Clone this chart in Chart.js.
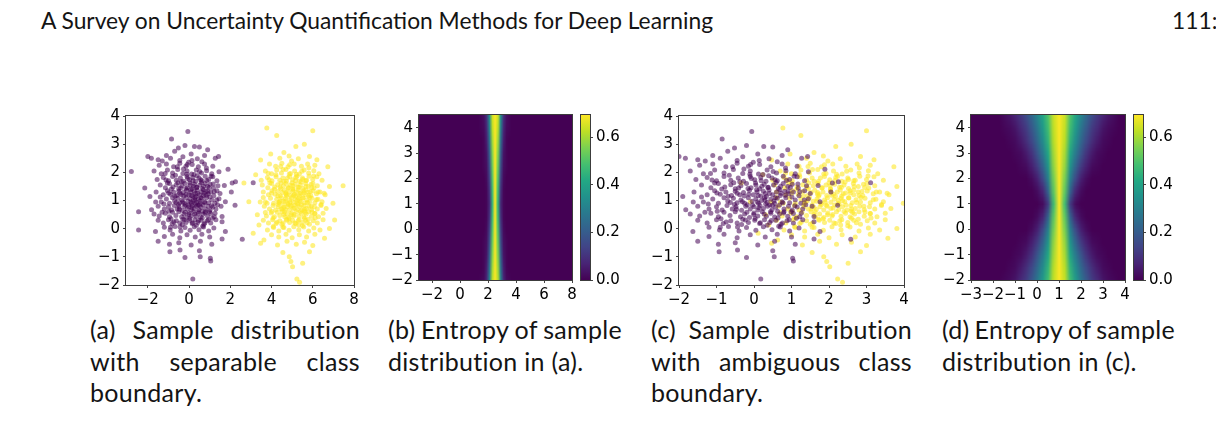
<!DOCTYPE html>
<html>
<head>
<meta charset="utf-8">
<script src="https://cdn.jsdelivr.net/npm/chart.js@4.4.1/dist/chart.umd.min.js"></script>
<style>
  html, body { margin: 0; padding: 0; background: #fff; }
  body { position: relative; width: 1216px; height: 446px; overflow: hidden; font-family: Lato, "Open Sans", sans-serif; color: #141414; }
  .head { position: absolute; top: 6px; font-size: 22.8px; white-space: nowrap; }
  .cap { position: absolute; top: 314px; font-size: 25px; letter-spacing: 0.3px; line-height: 31.5px; }
  .cap .j { display: flex; justify-content: space-between; white-space: nowrap; }
  .cap .l { white-space: nowrap; }
</style>
</head>
<body>
<div class="head" style="left:41px">A Survey on Uncertainty Quantification Methods for Deep Learning</div>
<div class="head" style="left:1172px">111:5</div>

<div class="cap" style="left:90px;width:270px">
  <div class="j"><span>(a)</span><span>Sample</span><span>distribution</span></div>
  <div class="j"><span>with</span><span>separable</span><span>class</span></div>
  <div class="l">boundary.</div>
</div>
<div class="cap" style="left:388px;width:234px">
  <div class="j"><span>(b)</span><span>Entropy</span><span>of</span><span>sample</span></div>
  <div class="l">distribution in (a).</div>
</div>
<div class="cap" style="left:651px;width:261px">
  <div class="j"><span>(c)</span><span>Sample</span><span>distribution</span></div>
  <div class="j"><span>with</span><span>ambiguous</span><span>class</span></div>
  <div class="l">boundary.</div>
</div>
<div class="cap" style="left:942px;width:233px">
  <div class="j"><span>(d)</span><span>Entropy</span><span>of</span><span>sample</span></div>
  <div class="l">distribution in (c).</div>
</div>

<script>
// ---- data ----

// class 0 (purple) samples, same draw in (a) and (c)
const classA = [
  [-0.06,3.45],[-0.85,3.18],[-0.2,2.95],[0.26,2.92],[-0.52,2.86],[0.5,2.9],[0.9,2.8],[-0.7,2.75],
  [-2.0,2.56],[-1.83,2.5],[-1.5,2.45],[-1.1,2.6],[-0.9,2.5],[-0.3,2.55],[0.1,2.65],[0.4,2.48],[0.75,2.6],[1.27,2.5],[1.43,2.56],[-1.3,2.4],[-0.45,2.42],[0.62,2.38],
  [-1.45,2.25],[-1.1,2.3],[-0.75,2.2],[-0.45,2.32],[-0.15,2.22],[0.15,2.28],[0.45,2.2],[0.75,2.3],[1.15,2.22],[-0.02,2.36],
  [-1.7,2.05],[-1.35,1.95],[-1.05,2.08],[-0.8,1.98],[-0.55,2.1],[-0.3,1.96],[-0.1,2.05],[0.12,1.94],[0.35,2.08],[0.6,1.98],[0.85,2.06],[1.1,1.95],[1.89,2.11],[1.45,2.02],
  [-1.55,1.75],[-1.25,1.82],[-1.0,1.7],[-0.8,1.85],[-0.62,1.72],[-0.42,1.8],[-0.28,1.68],[-0.1,1.85],[0.02,1.74],[0.18,1.82],[0.32,1.68],[0.48,1.8],[0.62,1.7],[0.78,1.86],[0.95,1.75],[1.15,1.84],[1.35,1.7],[2.09,1.62],[2.25,1.67],[3.11,1.63],
  [-2.15,1.44],[-1.4,1.55],[-1.15,1.45],[-0.95,1.6],[-0.78,1.48],[-0.62,1.56],[-0.5,1.42],[-0.35,1.52],[-0.2,1.6],[-0.08,1.45],[0.05,1.55],[0.15,1.42],[0.27,1.58],[0.38,1.47],[0.52,1.55],[0.65,1.43],[0.78,1.6],[0.9,1.5],[1.02,1.58],[1.18,1.44],[1.4,1.52],[1.71,1.53],
  [-1.6,1.3],[-1.25,1.2],[-1.05,1.35],[-0.9,1.22],[-0.75,1.3],[-0.6,1.18],[-0.5,1.33],[-0.38,1.2],[-0.28,1.28],[-0.12,1.36],[-0.02,1.2],[0.08,1.3],[0.18,1.16],[0.3,1.25],[0.4,1.37],[0.5,1.2],[0.6,1.3],[0.7,1.18],[0.82,1.33],[0.93,1.24],[1.05,1.3],[1.2,1.17],[1.35,1.35],[2.05,1.3],[0.25,1.33],[-0.45,1.26],
  [-1.9,1.14],[-1.35,0.95],[-1.1,1.05],[-0.95,0.9],[-0.8,1.1],[-0.7,0.98],[-0.55,1.08],[-0.45,0.92],[-0.35,1.02],[-0.25,0.9],[-0.15,1.1],[-0.05,0.97],[0.05,1.06],[0.12,0.9],[0.2,1.0],[0.28,1.1],[0.35,0.94],[0.45,1.04],[0.55,0.9],[0.62,1.08],[0.75,0.96],[0.85,1.1],[0.95,0.92],[1.1,1.02],[1.25,0.9],[1.45,1.06],[1.76,0.96],
  [-1.82,0.67],[-1.5,0.8],[-1.2,0.7],[-1.0,0.78],[-0.85,0.66],[-0.72,0.82],[-0.58,0.7],[-0.48,0.78],[-0.33,0.65],[-0.22,0.8],[-0.1,0.7],[0.0,0.78],[0.1,0.66],[0.16,0.82],[0.25,0.72],[0.36,0.8],[0.48,0.67],[0.58,0.76],[0.68,0.84],[0.8,0.7],[0.92,0.8],[1.02,0.66],[1.15,0.77],[1.3,0.7],[1.55,0.8],[0.42,0.84],[2.23,0.83],
  [-2.45,0.6],[-1.7,0.52],[-1.45,0.45],[-1.15,0.55],[-0.95,0.42],[-0.8,0.58],[-0.64,0.47],[-0.5,0.6],[-0.36,0.42],[-0.25,0.52],[-0.12,0.4],[0.0,0.56],[0.1,0.45],[0.22,0.6],[0.33,0.44],[0.45,0.55],[0.55,0.41],[0.68,0.52],[0.8,0.6],[0.9,0.44],[1.05,0.54],[1.22,0.42],[1.6,0.43],
  [-1.5,0.3],[-1.25,0.2],[-1.0,0.32],[-0.82,0.18],[-0.62,0.28],[-0.45,0.2],[-0.3,0.33],[-0.15,0.22],[0.02,0.3],[0.15,0.18],[0.28,0.32],[0.42,0.22],[0.58,0.3],[0.72,0.16],[0.88,0.28],[1.05,0.2],[1.3,0.32],[1.6,0.25],
  [-1.63,-0.1],[-1.2,0.05],[-0.92,-0.05],[-0.68,0.08],[-0.4,-0.08],[-0.2,0.04],[0.05,-0.06],[0.25,0.07],[0.48,-0.04],[0.7,0.06],[0.95,-0.08],[1.2,0.02],[1.76,-0.1],
  [-2.45,-0.05],[-1.2,-0.28],[-0.8,-0.2],[-0.45,-0.32],[-0.1,-0.22],[0.3,-0.3],[0.62,-0.2],[1.0,-0.3],[1.6,-0.37],[2.58,-0.38],
  [-1.5,-0.45],[-0.95,-0.55],[-0.5,-0.5],[0.1,-0.58],[0.55,-0.45],[1.1,-0.55],
  [-0.93,-0.82],[-0.44,-0.76],[0.5,-0.78],[0.54,-1.0],[1.03,-1.05],[1.05,-1.15],[-0.2,-1.02],[0.18,-1.79],[-2.8,2.03],
  [-1.05,1.62],[-0.88,0.35],[-0.66,1.9],[-0.52,0.86],[-0.41,1.44],[-0.33,0.15],[-0.27,2.12],[-0.19,0.58],[-0.14,1.22],[-0.07,1.78],[0.03,0.36],[0.09,0.95],[0.14,2.42],[0.21,1.51],[0.27,0.52],[0.33,1.14],[0.39,1.88],[0.46,0.29],[0.53,0.98],[0.59,1.64],[0.66,0.09],[0.72,1.26],[0.79,0.56],[0.86,1.71],[0.94,0.32],[1.01,1.12],[1.09,0.81],[1.17,1.59],[1.26,0.55],[1.34,1.02],
  [-1.22,0.88],[-1.12,1.73],[-0.98,0.62],[-0.86,1.41],[-0.74,0.24],[-0.69,1.15],[-0.57,2.2],[-0.47,0.69],[-0.38,1.67],[-0.31,0.96],[-0.23,0.31],[-0.16,1.43],[-0.09,2.28],[-0.04,0.84],[0.04,1.62],[0.11,1.18],[0.17,0.21],[0.24,1.92],[0.31,0.88],[0.37,1.46],[0.44,0.6],[0.51,2.03],[0.57,1.1],[0.64,0.38],[0.71,1.51],[0.77,0.92],[0.84,2.15],[0.91,1.33],[0.99,0.6],[1.07,1.86],
  [-1.4,1.12],[-1.31,0.58],[-1.16,1.96],[-0.99,1.27],[-0.9,0.05],[-0.63,0.93],[-0.54,1.63],[-0.44,0.06],[-0.26,1.16],[-0.18,0.85],[-0.11,1.93],[-0.01,0.5],[0.07,1.38],[0.13,0.74],[0.19,1.7],[0.29,1.02],[0.35,0.12],[0.41,1.25],[0.49,0.83],[0.56,1.74],[0.63,0.62],[0.69,1.38],[0.76,0.2],[0.83,1.19],[0.97,1.46],[1.13,0.37],[1.22,1.31],[1.38,0.85],[1.5,1.25],[-1.62,0.95]
];

// class 1 (yellow) samples as drawn in (a); (c) shows the same draw moved 3 units left
const classB = [
  [3.77,3.57],[6.0,3.48],[4.25,3.31],[5.18,2.92],[5.59,3.0],
  [3.96,2.65],[4.4,2.5],[4.85,2.58],[5.3,2.48],[5.84,2.56],[6.2,2.45],[4.6,2.7],[3.47,2.44],
  [3.9,2.3],[4.2,2.22],[4.5,2.32],[4.8,2.2],[5.1,2.3],[5.45,2.22],[5.75,2.3],[6.1,2.25],[6.73,2.2],
  [3.7,2.05],[4.0,1.95],[4.25,2.08],[4.48,1.98],[4.7,2.1],[4.92,1.96],[5.12,2.05],[5.35,1.94],[5.58,2.08],[5.8,1.98],[6.05,2.06],[6.3,1.95],
  [3.23,1.91],[3.5,1.72],[3.8,1.82],[4.02,1.7],[4.22,1.84],[4.4,1.72],[4.55,1.8],[4.72,1.68],[4.88,1.85],[5.02,1.74],[5.18,1.82],[5.34,1.68],[5.5,1.8],[5.66,1.7],[5.82,1.86],[6.0,1.75],[6.2,1.84],[6.45,1.72],
  [2.66,1.62],[3.55,1.55],[3.82,1.45],[4.0,1.6],[4.15,1.48],[4.3,1.56],[4.45,1.42],[4.58,1.52],[4.7,1.6],[4.82,1.45],[4.92,1.55],[5.04,1.42],[5.15,1.58],[5.28,1.47],[5.4,1.55],[5.52,1.43],[5.65,1.6],[5.78,1.5],[5.92,1.58],[6.06,1.44],[6.22,1.52],[6.81,1.5],[7.47,1.52],
  [3.6,1.3],[3.85,1.2],[4.02,1.35],[4.18,1.22],[4.3,1.32],[4.42,1.17],[4.52,1.28],[4.62,1.36],[4.74,1.2],[4.84,1.3],[4.94,1.18],[5.04,1.34],[5.12,1.22],[5.22,1.3],[5.34,1.16],[5.44,1.27],[5.56,1.35],[5.66,1.2],[5.78,1.3],[5.9,1.18],[6.02,1.34],[6.18,1.24],[6.35,1.3],[6.6,1.2],[4.7,1.28],[5.3,1.37],
  [2.9,0.96],[3.7,0.95],[3.95,1.08],[4.1,0.9],[4.25,1.04],[4.35,0.93],[4.42,0.98],[4.48,1.1],[4.58,0.97],[4.68,1.06],[4.78,0.9],[4.88,1.02],[4.96,1.1],[5.05,0.94],[5.14,1.04],[5.24,0.9],[5.32,1.08],[5.42,0.96],[5.52,1.1],[5.62,0.92],[5.72,1.03],[5.84,0.95],[5.96,1.08],[6.1,0.92],[6.25,1.04],[6.45,0.96],[6.98,0.9],
  [3.65,0.8],[3.9,0.7],[4.08,0.82],[4.2,0.66],[4.33,0.78],[4.45,0.7],[4.55,0.84],[4.6,0.76],[4.66,0.68],[4.76,0.78],[4.86,0.66],[4.95,0.8],[5.05,0.72],[5.15,0.84],[5.26,0.68],[5.36,0.78],[5.48,0.66],[5.58,0.82],[5.6,0.7],[5.7,0.72],[5.82,0.8],[5.94,0.67],[6.08,0.78],[6.22,0.7],[6.4,0.82],[6.65,0.72],
  [3.31,0.49],[3.75,0.45],[3.98,0.56],[4.14,0.42],[4.28,0.58],[4.4,0.47],[4.52,0.6],[4.6,0.5],[4.64,0.42],[4.75,0.52],[4.86,0.4],[4.97,0.56],[5.08,0.45],[5.2,0.6],[5.32,0.44],[5.44,0.55],[5.56,0.41],[5.68,0.52],[5.8,0.6],[5.94,0.44],[6.1,0.54],[6.28,0.42],[6.5,0.55],
  [3.6,0.3],[3.85,0.2],[4.05,0.32],[4.22,0.18],[4.4,0.28],[4.56,0.2],[4.72,0.33],[4.88,0.22],[5.02,0.3],[5.18,0.18],[5.34,0.32],[5.5,0.22],[5.66,0.3],[5.84,0.16],[6.02,0.28],[6.22,0.2],[6.5,0.32],[7.06,0.31],
  [3.39,0.13],[3.8,-0.05],[4.08,0.08],[4.35,-0.08],[4.6,0.04],[4.85,-0.06],[5.08,0.07],[5.32,-0.04],[5.56,0.06],[5.8,-0.08],[6.05,0.02],[6.35,-0.05],[6.81,0.01],[3.11,-0.16],
  [3.63,-0.4],[4.0,-0.22],[4.35,-0.3],[4.7,-0.2],[5.0,-0.32],[5.35,-0.22],[5.7,-0.3],[6.1,-0.2],[6.57,-0.34],
  [3.47,-0.52],[4.29,-0.58],[4.75,-0.45],[5.2,-0.55],[5.6,-0.48],[6.0,-0.6],
  [4.55,-0.85],[5.84,-0.82],[4.86,-1.0],[4.94,-1.17],[5.02,-1.35],[5.51,-1.23],[5.23,-1.79],[5.36,-1.9],
  [3.92,1.62],[4.08,0.38],[4.21,1.91],[4.33,0.86],[4.41,1.47],[4.5,0.16],[4.56,2.1],[4.63,0.6],[4.69,1.23],[4.77,1.8],[4.84,0.35],[4.9,0.94],[4.97,2.4],[5.03,1.52],[5.1,0.5],[5.17,1.15],[5.23,1.86],[5.29,0.28],[5.36,0.99],[5.43,1.66],[5.5,0.1],[5.57,1.27],[5.63,0.57],[5.7,1.72],[5.78,0.33],[5.85,1.11],[5.93,0.8],[6.01,1.6],[6.1,0.54],[6.18,1.03],
  [3.78,0.9],[3.88,1.74],[4.02,0.61],[4.14,1.4],[4.26,0.23],[4.31,1.16],[4.44,2.21],[4.52,0.7],[4.6,1.68],[4.67,0.97],[4.74,0.3],[4.81,1.44],[4.88,2.27],[4.93,0.83],[5.0,1.63],[5.07,1.19],[5.13,0.2],[5.2,1.93],[5.27,0.87],[5.33,1.47],[5.4,0.61],[5.47,2.04],[5.53,1.09],[5.6,0.37],[5.67,1.5],[5.74,0.93],[5.81,2.16],[5.88,1.32],[5.96,0.59],[6.04,1.87],
  [3.6,1.11],[3.7,0.57],[3.84,1.97],[4.0,1.26],[4.1,0.04],[4.37,0.94],[4.46,1.62],[4.55,0.05],[4.72,1.15],[4.8,0.86],[4.86,1.94],[4.96,0.49],[5.04,1.39],[5.11,0.73],[5.16,1.71],[5.25,1.01],[5.31,0.13],[5.38,1.24],[5.45,0.84],[5.52,1.75],[5.59,0.63],[5.66,1.37],[5.73,0.21],[5.8,1.18],[5.95,1.46],[6.12,0.38],[6.26,1.3],[6.4,0.86],[6.55,1.26],[3.45,0.95]
];
const classBShiftC = -3;

// entropy grids: rows are y values, columns x values (nats, max ln 2)
const entropyMax = 0.693;
const gridY = [-2, -1.5, -1, -0.5, 0, 0.5, 1, 1.5, 2, 2.5, 3, 3.5, 4, 4.5];
const gridXB = [1.3, 1.5, 1.7, 1.9, 2.1, 2.3, 2.5, 2.7, 2.9, 3.1, 3.3, 3.5, 3.7];
const entropyB = [
  [0,0.01,0.02,0.08,0.31,0.62,0.69,0.62,0.31,0.08,0.02,0.01,0],
  [0,0,0.01,0.06,0.26,0.59,0.69,0.59,0.26,0.06,0.01,0,0],
  [0,0,0.01,0.04,0.21,0.56,0.69,0.56,0.21,0.04,0.01,0,0],
  [0,0,0.01,0.03,0.17,0.53,0.69,0.53,0.17,0.03,0.01,0,0],
  [0,0,0,0.02,0.13,0.50,0.69,0.50,0.13,0.02,0,0,0],
  [0,0,0,0.01,0.10,0.47,0.69,0.47,0.10,0.01,0,0,0],
  [0,0,0,0.01,0.08,0.45,0.69,0.45,0.08,0.01,0,0,0],
  [0,0,0,0.01,0.10,0.47,0.69,0.47,0.10,0.01,0,0,0],
  [0,0,0,0.02,0.13,0.50,0.69,0.50,0.13,0.02,0,0,0],
  [0,0,0.01,0.03,0.17,0.53,0.69,0.53,0.17,0.03,0.01,0,0],
  [0,0,0.01,0.04,0.21,0.56,0.69,0.56,0.21,0.04,0.01,0,0],
  [0,0,0.01,0.06,0.26,0.59,0.69,0.59,0.26,0.06,0.01,0,0],
  [0,0.01,0.02,0.08,0.31,0.62,0.69,0.62,0.31,0.08,0.02,0.01,0],
  [0,0.01,0.03,0.10,0.35,0.64,0.69,0.64,0.35,0.10,0.03,0.01,0]
];
const gridXD = [-1.75,-1.5,-1.25,-1,-0.75,-0.5,-0.25,0,0.25,0.5,0.75,1,1.25,1.5,1.75,2,2.25,2.5,2.75,3,3.25,3.5,3.75];
const entropyD = [
  [0,0.01,0.02,0.04,0.08,0.12,0.19,0.27,0.37,0.48,0.63,0.69,0.63,0.48,0.37,0.27,0.19,0.12,0.08,0.04,0.02,0.01,0],
  [0,0,0.01,0.02,0.05,0.09,0.15,0.23,0.33,0.45,0.62,0.69,0.62,0.45,0.33,0.23,0.15,0.09,0.05,0.02,0.01,0,0],
  [0,0,0,0.01,0.02,0.05,0.10,0.18,0.28,0.41,0.60,0.69,0.60,0.41,0.28,0.18,0.10,0.05,0.02,0.01,0,0,0],
  [0,0,0,0,0.01,0.02,0.06,0.12,0.22,0.36,0.58,0.69,0.58,0.36,0.22,0.12,0.06,0.02,0.01,0,0,0,0],
  [0,0,0,0,0,0,0.02,0.06,0.15,0.30,0.55,0.69,0.55,0.30,0.15,0.06,0.02,0,0,0,0,0,0],
  [0,0,0,0,0,0,0,0.02,0.07,0.22,0.52,0.69,0.52,0.22,0.07,0.02,0,0,0,0,0,0,0],
  [0,0,0,0,0,0,0,0,0.02,0.12,0.48,0.69,0.48,0.12,0.02,0,0,0,0,0,0,0,0],
  [0,0,0,0,0,0,0,0.02,0.07,0.22,0.52,0.69,0.52,0.22,0.07,0.02,0,0,0,0,0,0,0],
  [0,0,0,0,0,0,0.02,0.06,0.15,0.30,0.55,0.69,0.55,0.30,0.15,0.06,0.02,0,0,0,0,0,0],
  [0,0,0,0,0.01,0.02,0.06,0.12,0.22,0.36,0.58,0.69,0.58,0.36,0.22,0.12,0.06,0.02,0.01,0,0,0,0],
  [0,0,0,0.01,0.02,0.05,0.10,0.18,0.28,0.41,0.60,0.69,0.60,0.41,0.28,0.18,0.10,0.05,0.02,0.01,0,0,0],
  [0,0,0.01,0.02,0.05,0.09,0.15,0.23,0.33,0.45,0.62,0.69,0.62,0.45,0.33,0.23,0.15,0.09,0.05,0.02,0.01,0,0],
  [0,0.01,0.02,0.04,0.08,0.12,0.19,0.27,0.37,0.48,0.63,0.69,0.63,0.48,0.37,0.27,0.19,0.12,0.08,0.04,0.02,0.01,0],
  [0,0.02,0.04,0.07,0.11,0.16,0.23,0.31,0.40,0.50,0.64,0.69,0.64,0.50,0.40,0.31,0.23,0.16,0.11,0.07,0.04,0.02,0]
];

// tick labels
const ticksAX = [-2, 0, 2, 4, 6, 8];
const ticksBX = [-2, 0, 2, 4, 6, 8];
const ticksCX = [-2, -1, 0, 1, 2, 3, 4];
const ticksDX = [-3, -2, -1, 0, 1, 2, 3, 4];
const ticksY = [-2, -1, 0, 1, 2, 3, 4];
const ticksBar = [0, 0.2, 0.4, 0.6];

// ---- styling ----
const viridisStops = ["#440154","#482475","#414487","#355f8d","#2a788e","#21918c","#22a884","#44bf70","#7ad151","#bddf26","#fde725"];
const tickFont = { family: "'DejaVu Sans'", size: 15 };
const purple = "rgba(68, 1, 84, 0.55)";
const yellow = "rgba(253, 231, 37, 0.58)";

function hexRgb(h) {
  return [1, 3, 5].map(i => parseInt(h.slice(i, i + 2), 16));
}
const viridisRgb = viridisStops.map(hexRgb);

function viridis(t) {
  t = Math.min(1, Math.max(0, t)) * (viridisRgb.length - 1);
  const i = Math.min(Math.floor(t), viridisRgb.length - 2);
  const f = t - i;
  return viridisRgb[i].map((c, k) => Math.round(c + (viridisRgb[i + 1][k] - c) * f));
}

function minusLabel(v) {
  return v < 0 ? "\u2212" + Math.abs(v) : String(v);
}

function makeCanvas(area, extra) {
  const c = document.createElement("canvas");
  c.width = area.width + extra.l + extra.r;
  c.height = area.height + extra.t + extra.b;
  c.style.position = "absolute";
  c.style.left = (area.left - extra.l) + "px";
  c.style.top = (area.top - extra.t) + "px";
  document.body.appendChild(c);
  return c;
}

function axis(min, max, tickValues, position, fmt) {
  return {
    type: "linear", position, min, max,
    afterBuildTicks: s => { s.ticks = tickValues.map(v => ({ value: v })); },
    afterFit: s => { if (s.isHorizontal()) s.height = 26; else s.width = position === "right" ? 40 : 46; },
    grid: { drawOnChartArea: false, drawTicks: true, tickLength: 3, color: "#444", lineWidth: 1 },
    border: { display: false },
    ticks: { font: tickFont, color: "#000", padding: 3, maxRotation: 0, autoSkip: false, callback: fmt || minusLabel }
  };
}

const framePlugin = {
  id: "frame",
  afterDraw(chart) {
    const { ctx, chartArea: a } = chart;
    ctx.save();
    ctx.strokeStyle = "#3c3c3c";
    ctx.lineWidth = 1;
    ctx.strokeRect(a.left - 0.5, a.top - 0.5, a.width + 1, a.height + 1);
    ctx.restore();
  }
};

const baseOptions = {
  responsive: false,
  animation: false,
  events: [],
  plugins: { legend: { display: false }, tooltip: { enabled: false } }
};

function scatterPanel(area, xMin, xMax, xTicks, sets) {
  const canvas = makeCanvas(area, { l: 50, t: 12, r: 12, b: 26 });
  new Chart(canvas, {
    type: "scatter",
    data: {
      datasets: sets.map(s => ({
        data: s.points.map(([x, y]) => ({ x: x + s.shift, y })),
        backgroundColor: s.color,
        borderWidth: 0,
        pointRadius: 2.5
      }))
    },
    options: {
      ...baseOptions,
      layout: { padding: { left: 4, top: 12, right: 12, bottom: 0 } },
      scales: {
        x: axis(xMin, xMax, xTicks, "bottom"),
        y: axis(-2, 4, ticksY, "left")
      }
    },
    plugins: [framePlugin]
  });
}

function heatImage(grid) {
  const rows = grid.length, cols = grid[0].length;
  const off = document.createElement("canvas");
  off.width = cols;
  off.height = rows;
  const octx = off.getContext("2d");
  const img = octx.createImageData(cols, rows);
  grid.forEach((row, r) => row.forEach((v, c) => {
    const [R, G, B] = viridis(v / entropyMax);
    img.data.set([R, G, B, 255], ((rows - 1 - r) * cols + c) * 4);
  }));
  octx.putImageData(img, 0, 0);
  return off;
}

function heatPanel(area, xMin, xMax, xTicks, gridX, grid) {
  const img = heatImage(grid);
  const heat = {
    id: "heat",
    beforeDatasetsDraw(chart) {
      const { ctx, chartArea: a, scales: { x, y } } = chart;
      const dx = gridX[1] - gridX[0], dy = gridY[1] - gridY[0];
      ctx.save();
      ctx.beginPath();
      ctx.rect(a.left, a.top, a.width, a.height);
      ctx.clip();
      ctx.fillStyle = "rgb(" + viridis(0).join(",") + ")";
      ctx.fillRect(a.left, a.top, a.width, a.height);
      const x0 = x.getPixelForValue(gridX[0] - dx / 2);
      const x1 = x.getPixelForValue(gridX[gridX.length - 1] + dx / 2);
      const y0 = y.getPixelForValue(gridY[gridY.length - 1] + dy / 2);
      const y1 = y.getPixelForValue(gridY[0] - dy / 2);
      ctx.imageSmoothingEnabled = true;
      ctx.drawImage(img, x0, y0, x1 - x0, y1 - y0);
      ctx.restore();
    }
  };
  const canvas = makeCanvas(area, { l: 50, t: 12, r: 12, b: 26 });
  new Chart(canvas, {
    type: "scatter",
    data: { datasets: [] },
    options: {
      ...baseOptions,
      layout: { padding: { left: 4, top: 12, right: 12, bottom: 0 } },
      scales: {
        x: axis(xMin, xMax, xTicks, "bottom"),
        y: axis(-2, 4.5, ticksY, "left")
      }
    },
    plugins: [heat, framePlugin]
  });
}

function colorbar(area) {
  const bar = {
    id: "bar",
    beforeDatasetsDraw(chart) {
      const { ctx, chartArea: a, scales: { y } } = chart;
      const g = ctx.createLinearGradient(0, y.getPixelForValue(0), 0, y.getPixelForValue(entropyMax));
      viridisStops.forEach((c, i) => g.addColorStop(i / (viridisStops.length - 1), c));
      ctx.save();
      ctx.fillStyle = g;
      ctx.fillRect(a.left, a.top, a.width, a.height);
      ctx.restore();
    }
  };
  const canvas = makeCanvas(area, { l: 2, t: 12, r: 40, b: 12 });
  new Chart(canvas, {
    type: "scatter",
    data: { datasets: [] },
    options: {
      ...baseOptions,
      layout: { padding: { left: 2, top: 12, right: 0, bottom: 12 } },
      scales: {
        x: { display: false, min: 0, max: 1 },
        y: axis(0, entropyMax, ticksBar, "right", v => v.toFixed(1))
      }
    },
    plugins: [bar, framePlugin]
  });
}

scatterPanel({ left: 126, top: 116, width: 228, height: 169 }, -3.06, 8, ticksAX, [
  { points: classA, shift: 0, color: purple },
  { points: classB, shift: 0, color: yellow }
]);
heatPanel({ left: 419, top: 115, width: 153, height: 165 }, -2.93, 8, ticksBX, gridXB, entropyB);
colorbar({ left: 581, top: 115, width: 9, height: 165 });
scatterPanel({ left: 679, top: 116, width: 225, height: 169 }, -2, 4, ticksCX, [
  { points: classA, shift: 0, color: purple },
  { points: classB, shift: classBShiftC, color: yellow }
]);
heatPanel({ left: 971, top: 115, width: 154, height: 165 }, -3, 4, ticksDX, gridXD, entropyD);
colorbar({ left: 1134, top: 115, width: 9, height: 165 });
</script>
</body>
</html>
